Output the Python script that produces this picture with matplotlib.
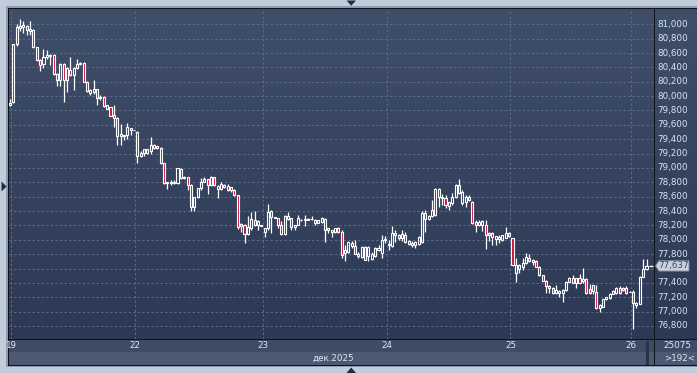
import matplotlib
matplotlib.use('Agg')
import matplotlib.pyplot as plt
import numpy as np
from matplotlib.patches import Rectangle, Polygon
from matplotlib.colors import LinearSegmentedColormap

# ---------------- data (30-min candles, 19-26 Dec 2025) ----------------
opens = [
    79880, 79920, 80720, 80950, 80960, 80975, 80910, 80920, 80680, 80500,
    80447, 80540, 80560, 80570, 80308, 80225, 80447, 80225, 80364, 80290,
    80390, 80443, 80460, 80200, 80045, 80060, 80094, 79970, 79990, 79873,
    79845, 79733, 79700, 79445, 79440, 79460, 79530, 79530,
    79500, 79167, 79205, 79210, 79230, 79320, 79300, 79283, 79065, 78787,
    78795, 78790, 78790, 78990, 78880, 78877, 78763, 78453, 78592, 78717,
    78810, 78843, 78763, 78870, 78750, 78710, 78740, 78750, 78730, 78700,
    78624, 78190, 78206, 78081, 78160, 78276, 78210, 78200,
    78113, 78160, 78407, 78310, 78300, 78206, 78081, 78286, 78300, 78183,
    78206, 78270, 78280, 78280, 78290, 78276, 78240, 78250, 78286, 78160,
    78110, 78113, 78160, 78113, 77812, 77835, 77950, 77910, 77770, 77760,
    77900, 77780, 77735, 77780, 77890, 77820, 78000,
    77930, 77910, 78060, 78067, 78020, 78067, 77944, 77930, 77930, 77944,
    77975, 78379, 78286, 78332, 78345, 78703, 78580, 78578, 78470, 78508,
    78600, 78763, 78510, 78530, 78590, 78531, 78253, 78206, 78210, 78206,
    78067, 78095, 78016, 78045, 77997, 78030, 78053,
    78020, 77543, 77648, 77627, 77674, 77743, 77720, 77710, 77617, 77510,
    77431, 77325, 77325, 77255, 77290, 77265, 77300, 77417, 77464, 77403,
    77464, 77420, 77450, 77320, 77290, 77278, 77047, 77070, 77176, 77186,
    77246, 77255, 77325, 77300, 77325, 77278,
    77278, 77093, 77111, 77487, 77591,
]
highs = [
    79960, 80730, 81000, 81080, 81050, 80990, 81050, 80930, 80690, 80510,
    80650, 80640, 80590, 80580, 80320, 80460, 80460, 80400, 80550, 80400,
    80513, 80480, 80480, 80210, 80095, 80225, 80100, 80010, 80000, 79880,
    79850, 79877, 79710, 79610, 79460, 79620, 79560, 79535,
    79510, 79230, 79270, 79270, 79436, 79340, 79310, 79290, 79070, 78800,
    78830, 78830, 79000, 79000, 78890, 78880, 78770, 78600, 78720, 78866,
    78870, 78850, 78890, 78880, 78760, 78800, 78780, 78770, 78740, 78710,
    78630, 78230, 78215, 78332, 78393, 78407, 78280, 78205,
    78170, 78500, 78420, 78320, 78310, 78260, 78350, 78393, 78310, 78210,
    78350, 78290, 78350, 78300, 78330, 78290, 78280, 78320, 78300, 78170,
    78140, 78170, 78180, 78130, 77930, 77990, 77990, 78000, 77830, 77920,
    77910, 77910, 77830, 77900, 77930, 78067, 78050,
    78000, 78190, 78130, 78080, 78140, 78110, 77995, 77980, 77990, 78050,
    78400, 78420, 78340, 78560, 78720, 78720, 78640, 78620, 78530, 78650,
    78770, 78843, 78700, 78620, 78620, 78540, 78270, 78280, 78270, 78280,
    78110, 78110, 78053, 78060, 78070, 78174, 78110,
    78030, 77743, 77660, 77740, 77813, 77800, 77730, 77720, 77630, 77515,
    77440, 77370, 77340, 77370, 77300, 77310, 77420, 77487, 77510, 77470,
    77524, 77601, 77470, 77390, 77370, 77370, 77100, 77180, 77210, 77260,
    77300, 77340, 77350, 77340, 77360, 77285,
    77300, 77140, 77500, 77729, 77729,
]
lows = [
    79860, 79900, 80700, 80900, 80880, 80850, 80850, 80670, 80490, 80350,
    80390, 80520, 80440, 80300, 80140, 80140, 79920, 80060, 80280, 80085,
    80380, 80430, 80195, 80060, 80020, 80030, 79877, 79950, 79850, 79815,
    79720, 79575, 79320, 79320, 79390, 79405, 79460, 79525,
    79065, 79150, 79167, 79200, 79200, 79270, 79270, 79060, 78780, 78703,
    78760, 78780, 78780, 78850, 78850, 78700, 78407, 78407, 78580, 78700,
    78800, 78638, 78750, 78750, 78578, 78700, 78720, 78680, 78660, 78610,
    78150, 78113, 77960, 78070, 78130, 78190, 78130, 78190,
    78035, 78140, 78100, 78300, 78170, 78060, 78070, 78270, 78130, 78140,
    78200, 78260, 78190, 78270, 78280, 78200, 78230, 78240, 77975, 78100,
    78035, 78100, 78100, 77740, 77700, 77820, 77890, 77800, 77750, 77740,
    77720, 77700, 77720, 77760, 77840, 77750, 77960,
    77860, 77900, 77970, 78000, 77990, 77960, 77930, 77900, 77890, 77930,
    77960, 78113, 78270, 78320, 78330, 78453, 78480, 78440, 78420, 78490,
    78580, 78640, 78490, 78460, 78540, 78220, 78110, 78190, 78120, 77868,
    77980, 77928, 77930, 77960, 77990, 78020, 78040,
    77640, 77417, 77543, 77575, 77660, 77690, 77650, 77620, 77500, 77420,
    77255, 77255, 77240, 77240, 77210, 77139, 77290, 77410, 77400, 77330,
    77400, 77400, 77250, 77250, 77240, 77040, 77000, 77060, 77160, 77180,
    77240, 77250, 77250, 77290, 77250, 77275,
    76755, 77050, 77100, 77480, 77580,
]
closes = [
    79900, 80720, 80960, 80980, 80990, 80920, 80930, 80680, 80500, 80440,
    80540, 80575, 80575, 80310, 80225, 80447, 80225, 80388, 80294, 80390,
    80443, 80466, 80200, 80076, 80085, 80095, 79970, 79993, 79865, 79825,
    79724, 79696, 79445, 79473, 79455, 79575, 79550, 79530,
    79167, 79214, 79261, 79260, 79320, 79280, 79275, 79065, 78787, 78800,
    78805, 78810, 78995, 78856, 78860, 78763, 78453, 78592, 78717, 78810,
    78843, 78763, 78880, 78763, 78703, 78770, 78765, 78694, 78690, 78624,
    78183, 78215, 78081, 78183, 78286, 78206, 78260, 78195,
    78160, 78393, 78314, 78315, 78206, 78081, 78332, 78332, 78183, 78200,
    78300, 78280, 78290, 78290, 78290, 78240, 78270, 78300, 78130, 78130,
    78130, 78160, 78113, 77790, 77858, 77975, 77910, 77808, 77808, 77900,
    77725, 77900, 77808, 77880, 77860, 78000, 78010,
    77935, 78090, 78090, 78020, 78080, 77975, 77990, 77960, 77975, 78044,
    78379, 78286, 78332, 78420, 78703, 78600, 78600, 78485, 78520, 78600,
    78763, 78647, 78660, 78600, 78550, 78229, 78206, 78253, 78260, 78067,
    78095, 78035, 78053, 78016, 78060, 78095, 78095,
    77648, 77648, 77588, 77680, 77767, 77710, 77695, 77627, 77510, 77431,
    77357, 77357, 77255, 77300, 77265, 77300, 77417, 77464, 77403, 77464,
    77403, 77460, 77264, 77264, 77365, 77047, 77093, 77176, 77200, 77246,
    77290, 77325, 77255, 77325, 77255, 77280,
    77116, 77116, 77487, 77591, 77637,
]
day_labels = ['19', '22', '23', '24', '25', '26']
day_first_candle = [0, 38, 76, 113, 150, 186]
month_label = 'дек.2025'
last_price = 77637
volume_text = '25075'
bars_text = '>192<'

# ---------------- figure ----------------
W, H = 697, 373
fig = plt.figure(figsize=(W / 100, H / 100), dpi=100)
fig.patch.set_facecolor('#c2cddc')
FONT = 'DejaVu Sans'
FS = 6.3


def prect(x0, y0, x1, y1, color, z=-5):
    fig.add_artist(Rectangle((x0 / W, 1 - y1 / H), (x1 - x0) / W, (y1 - y0) / H,
                             transform=fig.transFigure, facecolor=color,
                             edgecolor='none', zorder=z))


def ppoly(pts, color, z=5):
    fig.add_artist(Polygon([(px / W, 1 - py / H) for px, py in pts], closed=True,
                           transform=fig.transFigure, facecolor=color,
                           edgecolor='none', zorder=z))


def frect(x0, y0, x1, y1):
    return [x0 / W, 1 - y1 / H, (x1 - x0) / W, (y1 - y0) / H]


# frame
prect(6, 6, 697, 367, '#8e9bb1', z=-6)
prect(7.5, 7.5, 697, 366, '#0e1219', z=-5)
prect(9, 340, 697, 352, '#3e4b65', z=-4)
prect(9, 352, 697, 365, '#4b5973', z=-4)
prect(646, 341, 648.5, 365, '#28324a', z=-3)
prect(653.5, 339, 655, 366, '#0e1219', z=-3)

grad_cmap = LinearSegmentedColormap.from_list('bg', ['#2c3955', '#3f4e69'])
grad = np.linspace(0, 1, 256).reshape(-1, 1)

N = len(closes)
x = np.arange(N)
spacing = 637 / (N - 1)
xlim = (-1 / spacing, 644 / spacing)
ylo, yhi = 76619, 81213

ax = fig.add_axes(frect(9, 9, 653.5, 339))
ax.imshow(grad, extent=[0, 1, 0, 1], transform=ax.transAxes, aspect='auto',
          cmap=grad_cmap, origin='lower', zorder=-10)
ax.set_xlim(*xlim)
ax.set_ylim(ylo, yhi)
for s in ax.spines.values():
    s.set_visible(False)
ax.set_xticks([])
ax.set_yticks([])

grid_col = '#5a6a8a'
levels = np.arange(76800, 81001, 200)
for lv in levels:
    ax.axhline(lv, color=grid_col, lw=0.75, ls=(0, (2.2, 2.2)), zorder=1)
day_pos = [max(f - 0.6, 0.3) for f in day_first_candle]
for p in day_pos:
    ax.axvline(p, color=grid_col, lw=0.75, ls=(0, (2.2, 2.2)), zorder=1)

o = np.array(opens, float)
h = np.array(highs, float)
l = np.array(lows, float)
c = np.array(closes, float)
top = np.maximum(o, c)
bot = np.minimum(o, c)
ax.vlines(x, top, h, color='white', lw=0.9, zorder=3)
ax.vlines(x, l, bot, color='white', lw=0.9, zorder=3)
up = c >= o
ax.bar(x[up], (top - bot)[up], bottom=bot[up], width=0.62, facecolor='none',
       edgecolor='white', linewidth=0.8, zorder=4)
ax.bar(x[~up], (top - bot)[~up], bottom=bot[~up], width=0.62,
       facecolor='#c8143c', edgecolor='white', linewidth=0.8, zorder=4)
ax.hlines(last_price, N - 0.4, N + 0.9, color='white', lw=1.0, zorder=4, clip_on=False)

# date labels
for p, lab in zip(day_pos, day_labels):
    ax.text(p, -7 / 330, lab, transform=ax.get_xaxis_transform(), ha='center',
            va='center', color='#dfe8f5', fontsize=FS, family=FONT, clip_on=False)
fig.text(333 / W, 1 - 358.5 / H, month_label, ha='center', va='center',
         color='#dfe8f5', fontsize=FS, family=FONT)
fig.text(663 / W, 1 - 346 / H, volume_text, ha='left', va='center',
         color='#dfe8f5', fontsize=FS, family=FONT)
fig.text(664 / W, 1 - 358.5 / H, bars_text, ha='left', va='center',
         color='#dfe8f5', fontsize=FS, family=FONT)

# price panel
ax2 = fig.add_axes(frect(655, 9, 697, 339))
ax2.imshow(grad, extent=[0, 1, 0, 1], transform=ax2.transAxes, aspect='auto',
           cmap=grad_cmap, origin='lower', zorder=-10)
ax2.set_xlim(655, 697)
ax2.set_ylim(ylo, yhi)
for s in ax2.spines.values():
    s.set_visible(False)
ax2.set_xticks([])
ax2.set_yticks([])
vpp = (yhi - ylo) / 330
for lv in levels:
    if abs(lv - last_price) < 9 * vpp:
        continue  # hidden behind the last-price marker
    ax2.text(657, lv, f'{lv:,}', ha='left', va='center', color='#d8e3f4',
             fontsize=FS, family=FONT)
box = [(655.5, last_price), (659, last_price + 5.2 * vpp), (689, last_price + 5.2 * vpp),
       (689, last_price - 5.2 * vpp), (659, last_price - 5.2 * vpp)]
ax2.add_patch(Polygon(box, closed=True, facecolor='#c9d0db', edgecolor='#7d889c',
                      lw=0.6, zorder=5))
ax2.text(658.5, last_price, f'{last_price:,}', ha='left', va='center',
         color='#3a4560', fontsize=FS, family=FONT, zorder=6)

# small navigation triangles
ppoly([(346.5, 0.5), (356, 0.5), (351.2, 5.8)], '#1f2b42')
ppoly([(346.5, 373), (356, 373), (351.2, 367.5)], '#1f2b42')
ppoly([(1.5, 181.5), (1.5, 191.5), (6.5, 186.5)], '#1f2b42')

fig.savefig('out.png', dpi=100)
